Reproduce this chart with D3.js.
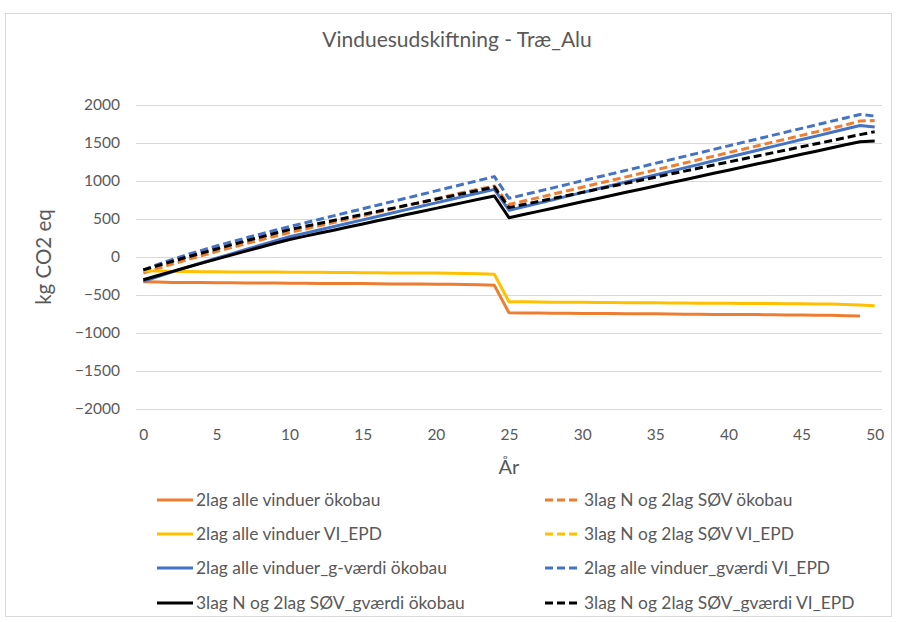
<!DOCTYPE html>
<html>
<head>
<meta charset="utf-8">
<script src="https://cdn.jsdelivr.net/npm/d3@7"></script>
<style>
  html, body { margin: 0; padding: 0; background: #fff; }
  text { font-family: Lato, "Open Sans", sans-serif; }
</style>
</head>
<body>
<svg id="chart" width="897" height="622"></svg>
<script>
const years = d3.range(0, 51);
const yTicks = [-2000, -1500, -1000, -500, 0, 500, 1000, 1500, 2000];
const xTickLabels = [0, 5, 10, 15, 20, 25, 30, 35, 40, 45, 50];

const s2lagOkobau = [-325,-330,-335,-336,-337,-338,-340,-342,-342,-343,-344,-346,-348,-348,-349,-350,-352,-354,-355,-356,-357,-358,-362,-366,-373,
  -733,-736,-738,-739,-740,-742,-744,-745,-746,-747,-748,-750,-752,-754,-755,-756,-757,-758,-760,-762,-764,-766,-768,-772,-776, null];
const s3lagOkobau = [-210,-150,-92,-36,18,71,123,174,224,273,321,365,410,454,499,543,588,632,677,721,766,810,855,895,934,
  690,736,781,827,872,918,963,1009,1054,1100,1145,1191,1236,1282,1327,1373,1418,1464,1509,1555,1600,1646,1691,1737,1790,1795];
const s2lagVIEPD = [-180,-185,-190,-192,-193,-194,-196,-198,-198,-199,-200,-201,-202,-204,-205,-206,-207,-209,-210,-211,-212,-214,-216,-220,-228,
  -588,-590,-592,-594,-596,-597,-598,-600,-601,-602,-603,-605,-606,-607,-608,-610,-611,-612,-613,-615,-616,-618,-620,-624,-630,-640];
const s3lagVIEPD = [];
const s2lagGOkobau = [-320,-256,-194,-134,-75,-17,41,98,155,211,266,311,355,400,444,489,534,578,623,667,712,757,801,846,890,
  615,661,708,754,801,847,894,940,987,1033,1080,1126,1173,1219,1266,1312,1359,1405,1452,1498,1545,1591,1638,1684,1730,1712];
const s2lagGVIEPD = [-170,-98,-32,30,88,144,198,250,301,351,400,447,494,541,588,635,682,729,776,823,870,917,964,1011,1058,
  772,818,864,910,956,1002,1048,1094,1140,1186,1232,1278,1324,1370,1416,1462,1508,1554,1600,1646,1692,1738,1784,1830,1876,1855];
const s3lagGOkobau = [-300,-244,-189,-135,-81,-28,25,77,129,180,230,271,312,353,394,435,476,517,558,599,640,681,722,763,803,
  517,559,600,642,684,726,767,809,851,892,934,976,1017,1059,1101,1142,1184,1226,1267,1309,1351,1392,1434,1476,1517,1526];
const s3lagGVIEPD = [-170,-112,-56,-1,53,106,159,211,262,312,360,400,440,480,520,560,600,640,680,720,760,800,840,880,920,
  650,690,730,770,810,850,890,930,970,1010,1050,1090,1130,1170,1210,1250,1290,1330,1370,1410,1450,1490,1530,1570,1610,1649];

const seriesNames = [
  "2lag alle vinduer ökobau", "3lag N og 2lag SØV ökobau",
  "2lag alle vinduer VI_EPD", "3lag N og 2lag SØV VI_EPD",
  "2lag alle vinduer_g-værdi ökobau", "2lag alle vinduer_gværdi VI_EPD",
  "3lag N og 2lag SØV_gværdi ökobau", "3lag N og 2lag SØV_gværdi VI_EPD"
];
const seriesValues = [s2lagOkobau, s3lagOkobau, s2lagVIEPD, s3lagVIEPD, s2lagGOkobau, s2lagGVIEPD, s3lagGOkobau, s3lagGVIEPD];
const seriesColors = ["#ED7D31", "#ED7D31", "#FFC000", "#FFC000", "#4472C4", "#4472C4", "#000000", "#000000"];
const seriesDashed = [false, true, false, true, false, true, false, true];

const svg = d3.select("#chart");

// chart border
svg.append("rect").attr("x", 5.5).attr("y", 13.5).attr("width", 886).attr("height", 603)
  .attr("fill", "#fff").attr("stroke", "#d9d9d9").attr("stroke-width", 1);

const x = d3.scalePoint().domain(years).range([136, 882]).padding(0.5);
const y = d3.scaleLinear().domain([-2000, 2000]).range([409, 105]);

// gridlines + y labels
const yAxis = d3.axisLeft(y).tickValues(yTicks).tickSize(-(882 - 136)).tickPadding(16).tickFormat(d3.format("d"));
const gy = svg.append("g").attr("transform", "translate(136,0)").call(yAxis);
gy.select(".domain").remove();
gy.selectAll(".tick line").attr("stroke", "#d9d9d9").attr("stroke-width", 1);
gy.selectAll(".tick text").attr("fill", "#595959").style("font-size", "15.5px").attr("font-family", "Lato");

const xAxis = d3.axisBottom(x).tickValues(xTickLabels).tickSize(0).tickPadding(20);
const gx = svg.append("g").attr("transform", "translate(0,409)").call(xAxis);
gx.select(".domain").remove();
gx.selectAll(".tick text").attr("fill", "#595959").style("font-size", "15.5px").attr("font-family", "Lato");

// lines
const line = d3.line().defined(d => d.v !== null && d.v !== undefined)
  .x(d => x(d.year)).y(d => y(d.v));

seriesValues.forEach((vals, i) => {
  const pts = vals.map((v, j) => ({ year: years[j], v: v }));
  if (!pts.length) return;
  svg.append("path").datum(pts)
    .attr("fill", "none")
    .attr("stroke", seriesColors[i])
    .attr("stroke-width", 3)
    .attr("stroke-linejoin", "round")
    .attr("stroke-dasharray", seriesDashed[i] ? "8,4" : null)
    .attr("d", line);
});

// title
svg.append("text").attr("x", 457).attr("y", 47).attr("text-anchor", "middle")
  .attr("fill", "#595959").style("font-size", "21px").text("Vinduesudskiftning - Træ_Alu");

// axis titles
svg.append("text").attr("x", 509).attr("y", 474).attr("text-anchor", "middle")
  .attr("fill", "#595959").style("font-size", "20px").text("År");
svg.append("text").attr("transform", "translate(51,257) rotate(-90)").attr("text-anchor", "middle")
  .attr("fill", "#595959").style("font-size", "20.5px").text("kg CO2 eq");

// legend
const legendRows = [500, 534, 568, 603];
const legendCols = [157, 545];
seriesNames.forEach((name, i) => {
  const col = i % 2, row = Math.floor(i / 2);
  const lx = legendCols[col], ly = legendRows[row];
  const g = svg.append("g");
  g.append("line").attr("x1", lx).attr("x2", lx + 36).attr("y1", ly).attr("y2", ly)
    .attr("stroke", seriesColors[i]).attr("stroke-width", 3)
    .attr("stroke-dasharray", seriesDashed[i] ? "8,4" : null);
  g.append("text").attr("x", lx + 39).attr("y", ly).attr("dy", "0.35em")
    .attr("fill", "#595959").style("font-size", "17.4px").text(name);
});
</script>
</body>
</html>
